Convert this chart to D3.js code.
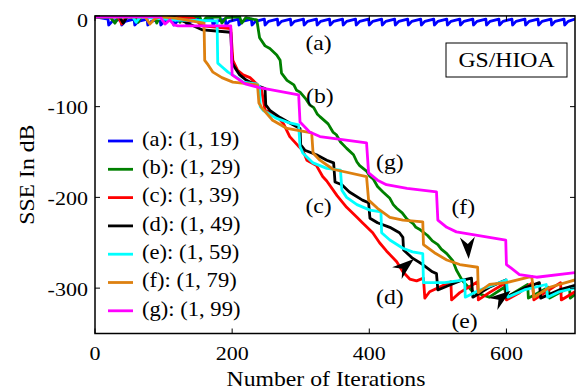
<!DOCTYPE html>
<html>
<head>
<meta charset="utf-8">
<script src="https://cdn.jsdelivr.net/npm/d3@7/dist/d3.min.js"></script>
<style>
    body { margin: 0; background: #fff; }
    text { font-family: "Liberation Serif", "Times New Roman", serif; fill: #000; }
</style>
</head>
<body>
<div id="chart"></div>
<script>
// values: [iteration, SSE in dB]
var seriesNames = ["(a): (1, 19)", "(b): (1, 29)", "(c): (1, 39)", "(d): (1, 49)",
    "(e): (1, 59)", "(f): (1, 79)", "(g): (1, 99)"];
var seriesColors = ["#0000ff", "#008000", "#ff0000", "#000000", "#00ffff", "#dd8010", "#ff00ff"];

var serA = [[0, -1], [19, -3.5], [20, -10], [25, -6], [38, -3.5], [39, -10], [44, -6],
    [57, -3.5], [58, -10], [63, -6], [76, -3.5], [77, -10], [82, -6], [95, -3.5], [96, -10], [101, -6],
    [114, -3.5], [115, -10], [120, -6], [133, -3.5], [134, -10], [139, -6], [152, -3.5], [153, -10], [158, -6],
    [171, -3.5], [172, -10], [177, -6], [190, -3.5], [191, -10], [196, -6], [209, -3.5], [210, -10], [215, -6],
    [228, -3.5], [229, -10], [234, -6], [247, -3.5], [248, -10], [253, -6], [266, -3.5], [267, -10], [272, -6],
    [285, -3.5], [286, -10], [291, -6], [304, -3.5], [305, -10], [310, -6], [323, -3.5], [324, -10], [329, -6],
    [342, -3.5], [343, -10], [348, -6], [361, -3.5], [362, -10], [367, -6], [380, -3.5], [381, -10], [386, -6],
    [399, -3.5], [400, -10], [405, -6], [418, -3.5], [419, -10], [424, -6], [437, -3.5], [438, -10], [443, -6],
    [456, -3.5], [457, -10], [462, -6], [475, -3.5], [476, -10], [481, -6], [494, -3.5], [495, -10], [500, -6],
    [513, -3.5], [514, -10], [519, -6], [532, -3.5], [533, -10], [538, -6], [551, -3.5], [552, -10], [557, -6],
    [570, -3.5], [571, -10], [576, -6], [589, -3.5], [590, -10], [595, -6], [608, -3.5], [609, -10], [614, -6],
    [627, -3.5], [628, -10], [633, -6], [646, -3.5], [647, -10], [652, -6], [665, -3.5], [666, -10], [671, -6],
    [684, -3.5], [685, -10], [690, -6], [700, -3.5]];

var serB = [[0, -1], [22, -1], [29, -8], [35, -1], [58, -1], [63, -7], [67, -1], [87, -1], [90, -8], [95, -1],
    [121, -1], [124, -7], [128, -1], [153, -1], [156, -8], [162, -2], [182, -1], [185, -8], [191, -2],
    [211, -1], [214, -8], [220, -2], [236, -4.5], [240, -24], [248, -33], [255, -36], [265, -43], [270, -49],
    [272, -63], [280, -71], [290, -76], [294, -82], [299, -84], [308, -92], [313, -98], [319, -101],
    [324, -108], [328, -111], [340, -119], [347, -128], [352, -131], [358, -139], [367, -146], [377, -153],
    [382, -161], [386, -165], [396, -171], [401, -177], [406, -180], [412, -188], [420, -194], [430, -201],
    [435, -208], [440, -212], [448, -217], [455, -224], [464, -229], [468, -233], [473, -235], [485, -242],
    [492, -248], [500, -252], [505, -257], [513, -262], [522, -270], [527, -280], [536, -292], [551, -304],
    [575, -310], [597, -299], [600, -310], [631, -296], [632, -311], [661, -299], [663, -311], [692, -299],
    [693, -311], [700, -307]];

var serC = [[0, -1], [34, -1], [39, -9], [45, -1], [109, -1], [143, -2.5], [157, -11], [198, -14], [201, -49],
    [208, -60], [216, -65], [226, -68], [236, -75], [243, -82], [248, -104], [255, -106], [267, -112],
    [275, -119], [284, -133], [296, -143], [303, -148], [309, -159], [323, -165], [332, -177], [338, -182],
    [353, -198], [367, -211], [382, -222], [390, -228], [405, -239], [415, -250], [425, -259], [440, -271],
    [449, -282], [459, -290], [469, -292], [479, -289], [481, -311], [488, -304], [519, -293], [520, -313],
    [532, -305], [558, -293], [559, -313], [575, -305], [599, -294], [600, -313], [619, -305], [638, -294],
    [640, -313], [656, -305], [679, -294], [680, -313], [700, -304]];

var serD = [[0, -1], [36, -1], [41, -8], [47, -1], [114, -1], [157, -15.5], [198, -18], [200, -52], [204, -57],
    [211, -65], [221, -71], [240, -78], [248, -80], [249, -98], [255, -104], [270, -112], [284, -118],
    [299, -124], [300, -142], [306, -148], [323, -153], [338, -159], [348, -162], [350, -183], [360, -186],
    [371, -194], [390, -203], [399, -206], [401, -223], [412, -228], [430, -233], [444, -239], [449, -244],
    [450, -258], [463, -267], [478, -274], [492, -282], [498, -284], [500, -302], [513, -298], [532, -292],
    [549, -289], [551, -310], [575, -299], [599, -291], [600, -310], [626, -300], [648, -294], [650, -311],
    [677, -302], [700, -297]];

var serE = [[0, -1], [55, -1], [60, -7], [66, -1], [117, -4.5], [178, -5.5], [179, -52], [185, -56], [194, -62],
    [207, -68], [216, -73], [236, -75], [240, -78], [241, -100], [245, -104], [265, -113], [284, -118],
    [297, -120], [299, -144], [303, -151], [318, -162], [338, -168], [358, -170], [360, -192], [367, -200],
    [382, -208], [401, -214], [417, -216], [418, -239], [430, -247], [449, -256], [463, -260], [478, -262],
    [479, -294], [510, -294], [539, -291], [540, -310], [561, -302], [600, -291], [602, -310], [626, -302],
    [658, -296], [660, -310], [677, -304], [700, -300]];

var serF = [[0, -1], [73, -1], [80, -9], [87, -3.5], [95, -1], [117, -2.5], [159, -8], [160, -49], [165, -54],
    [172, -62], [185, -68], [201, -73], [237, -76], [239, -96], [243, -101], [259, -115], [280, -124],
    [316, -129], [318, -151], [328, -159], [347, -169], [396, -177], [399, -203], [412, -212], [430, -222],
    [449, -225], [478, -227], [479, -252], [495, -261], [513, -269], [532, -274], [558, -277], [559, -305],
    [575, -296], [600, -294], [637, -287], [640, -310], [663, -299], [700, -291]];

var serG = [[0, -1], [95, -1], [102, -9], [109, -4.5], [115, -10], [121, -11], [198, -11], [200, -65],
    [219, -75], [240, -79], [297, -87], [299, -117], [313, -128], [328, -133], [396, -140], [399, -173],
    [412, -181], [425, -186], [455, -190], [498, -194], [500, -225], [513, -233], [527, -238], [551, -241],
    [599, -247], [600, -274], [607, -278], [619, -285], [644, -288], [700, -283]];

var allSeries = [serA, serB, serC, serD, serE, serF, serG];

var xTicks = [0, 200, 400, 600];
var yTicks = [-300, -200, -100, 0];

// curve labels and arrows, in data units
var notes = [["(a)", 326, -38], ["(b)", 328, -96], ["(g)", 430, -169], ["(c)", 326, -217],
    ["(f)", 537, -218], ["(d)", 430, -318], ["(e)", 539, -344]];
var arrows = [[543, -243, 545, -268], [441, -283, 465, -268], [581, -317, 606, -303]];

var width = 576,
        height = 390;
var x0 = 95, x1 = 575, y0 = 15.9, y1 = 333.5;
var sx = 1.13; // the source font is a bit wide

var svg = d3.select("#chart").append("svg")
        .attr("width", width)
        .attr("height", height);

var x = d3.scaleLinear().domain([0, 700]).range([x0, x1]);
var y = d3.scaleLinear().domain([-350, 0]).range([y1, y0]);

function label(g, px, py, str, size, anchor) {
    return g.append("text")
            .attr("transform", "translate(" + px + "," + py + ") scale(" + sx + ",1)")
            .attr("text-anchor", anchor)
            .style("font-size", size + "px")
            .text(str);
}

svg.append("clipPath").attr("id", "clip")
        .append("rect")
        .attr("x", x0)
        .attr("y", y0)
        .attr("width", x1 - x0)
        .attr("height", y1 - y0);

var lines = svg.append("g").attr("id", "lines").attr("clip-path", "url(#clip)");
var line = d3.line()
        .x(function (d) { return x(d[0]); })
        .y(function (d) { return y(d[1]); });

lines.selectAll("path")
        .data(allSeries)
        .enter().append("path")
        .attr("d", line)
        .attr("fill", "none")
        .attr("stroke", function (d, i) { return seriesColors[i]; })
        .attr("stroke-width", 2.8)
        .attr("stroke-linejoin", "round");

// axes box and inward ticks
var axes = svg.append("g").attr("id", "axes");
axes.append("rect")
        .attr("x", x0)
        .attr("y", y0)
        .attr("width", x1 - x0)
        .attr("height", y1 - y0)
        .attr("fill", "none")
        .attr("stroke", "#000")
        .attr("stroke-width", 1.5);

xTicks.forEach(function (t) {
    axes.append("line").attr("x1", x(t)).attr("x2", x(t)).attr("y1", y1).attr("y2", y1 - 5)
            .attr("stroke", "#000").attr("stroke-width", 1);
    axes.append("line").attr("x1", x(t)).attr("x2", x(t)).attr("y1", y0).attr("y2", y0 + 5)
            .attr("stroke", "#000").attr("stroke-width", 1);
    label(axes, x(t), 360, t, 19.5, "middle");
});
yTicks.forEach(function (t) {
    axes.append("line").attr("x1", x0).attr("x2", x0 + 5).attr("y1", y(t)).attr("y2", y(t))
            .attr("stroke", "#000").attr("stroke-width", 1);
    axes.append("line").attr("x1", x1).attr("x2", x1 - 5).attr("y1", y(t)).attr("y2", y(t))
            .attr("stroke", "#000").attr("stroke-width", 1);
    label(axes, 88, Math.max(y(t) + 7.5, 26.5), t, 19.5, "end");
});

label(axes, 326, 386, "Number of Iterations", 21, "middle");
axes.append("text")
        .attr("transform", "translate(34," + ((y0 + y1) / 2) + ") rotate(-90) scale(" + sx + ",1)")
        .attr("text-anchor", "middle")
        .style("font-size", "21px")
        .text("SSE In dB");

// legend
var legend = svg.append("g").attr("id", "legend");
seriesNames.forEach(function (s, i) {
    var ly = 141 + i * 28.3;
    legend.append("line")
            .attr("x1", 108).attr("x2", 133).attr("y1", ly).attr("y2", ly)
            .attr("stroke", seriesColors[i])
            .attr("stroke-width", 2.8);
    label(legend, 142, ly + 4.8, s, 20, "start");
});

// GS/HIOA box
svg.append("rect")
        .attr("x", 446)
        .attr("y", 43)
        .attr("width", 121)
        .attr("height", 34)
        .attr("fill", "#fff")
        .attr("stroke", "#000")
        .attr("stroke-width", 1);
label(svg, 506.5, 67, "GS/HIOA", 21, "middle");

// curve labels
var ann = svg.append("g").attr("id", "notes");
notes.forEach(function (n) {
    label(ann, x(n[1]), y(n[2]), n[0], 21, "middle");
});

// arrowheads
arrows.forEach(function (a) {
    var bx = x(a[0]), by = y(a[1]), tx = x(a[2]), ty = y(a[3]);
    var dx = tx - bx, dy = ty - by, len = Math.sqrt(dx * dx + dy * dy);
    var ux = dx / len, uy = dy / len, L = 22, W = 7.5, N = 7;
    var px = -uy, py = ux;
    var pts = [
        [tx, ty],
        [tx - ux * L + px * W, ty - uy * L + py * W],
        [tx - ux * (L - N), ty - uy * (L - N)],
        [tx - ux * L - px * W, ty - uy * L - py * W]
    ];
    ann.append("path")
            .attr("d", "M" + pts.join("L") + "Z")
            .attr("fill", "#000");
});
</script>
</body>
</html>
